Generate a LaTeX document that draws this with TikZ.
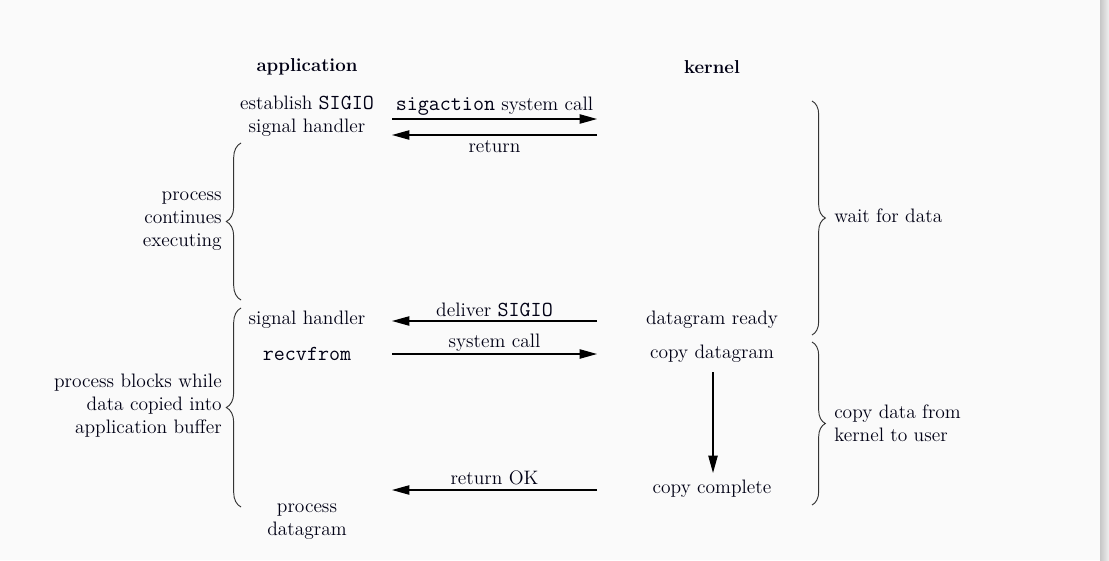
\documentclass[tikz,border=0pt]{standalone}
\usepackage{fontspec}
\setmonofont[Scale=1.1]{Latin Modern Mono}
\usetikzlibrary{arrows.meta,decorations.pathreplacing}
\begin{document}
\begin{tikzpicture}[x=0.75pt,y=-0.75pt,
  txt/.style={inner sep=0pt,font=\fontsize{14.6}{17.25}\selectfont,text=black!92!blue},
  hdr/.style={txt,font=\fontsize{14}{17.25}\selectfont\bfseries},
  msg/.style={line width=0.9pt,-{Triangle[length=13pt,width=7pt]}},
  lbrace/.style={decorate,decoration={brace,amplitude=11pt},line width=0.7pt,draw=black!80},
  rbrace/.style={decorate,decoration={brace,amplitude=10pt},line width=0.7pt,draw=black!80}]
\fill[white!98!black] (0,0) rectangle (1109,560);
\useasboundingbox (0,0) rectangle (1109,560);
\shade[left color=black!22, right color=black!6] (1100,0) rectangle (1109,560);

% headers
\node[hdr] (app) at (307,67) {application};
\node[hdr] (ker) at (712,67) {kernel};

% application column
\node[txt,align=center] (est) at (307,116.5) {establish \texttt{SIGIO}\\signal handler};
\node[txt] (sh) at (307,320) {signal handler};
\node[txt] (rf) at (307,354) {\texttt{recvfrom}};
\node[txt,align=center] (pd) at (307,521.5) {process\\datagram};

% kernel column
\node[txt] (dr) at (712,320) {datagram ready};
\node[txt] (cd) at (712,354) {copy datagram};
\node[txt] (cc) at (712,489) {copy complete};

% arrow end coordinates
\coordinate (a1L) at (392,119); \coordinate (a1R) at (597,119);
\coordinate (a2L) at (392,135); \coordinate (a2R) at (597,135);
\coordinate (a3L) at (392,321); \coordinate (a3R) at (597,321);
\coordinate (a4L) at (392,354); \coordinate (a4R) at (597,354);
\coordinate (a5L) at (392,490); \coordinate (a5R) at (597,490);
\coordinate (vT) at (713,372); \coordinate (vB) at (713,473);

\draw[msg] (a1L) -- (a1R) node[txt,midway,above=2.5pt] (l1) {\texttt{sigaction} system call};
\draw[msg] (a2R) -- (a2L) node[txt,midway,below=3.5pt] (l2) {return};
\draw[msg] (a3R) -- (a3L) node[txt,midway,above=3pt] (l3) {deliver \texttt{SIGIO}};
\draw[msg] (a4L) -- (a4R) node[txt,midway,above=1.5pt] (l4) {system call};
\draw[msg] (a5R) -- (a5L) node[txt,midway,above=3pt] (l5) {return OK};
\draw[msg] (vT) -- (vB);

% left braces
\coordinate (b1t) at (241,143); \coordinate (b1b) at (241,300);
\coordinate (b2t) at (241,308); \coordinate (b2b) at (241,507);
\draw[lbrace] (b1b) -- (b1t);
\draw[lbrace] (b2b) -- (b2t);
\node[txt,align=right,anchor=east] (pce) at (222,221) {process\\continues\\executing};
\node[txt,align=right,anchor=east] (pbw) at (222,406) {process blocks while\\data copied into\\application buffer};

% right braces
\coordinate (r1t) at (812,101); \coordinate (r1b) at (812,335);
\coordinate (r2t) at (812,342); \coordinate (r2b) at (812,505);
\draw[rbrace] (r1t) -- (r1b);
\draw[rbrace] (r2t) -- (r2b);
\node[txt,anchor=west] (wfd) at (834,216) {wait for data};
\node[txt,align=left,anchor=west] (cdk) at (834,423) {copy data from\\kernel to user};
\end{tikzpicture}
\end{document}
